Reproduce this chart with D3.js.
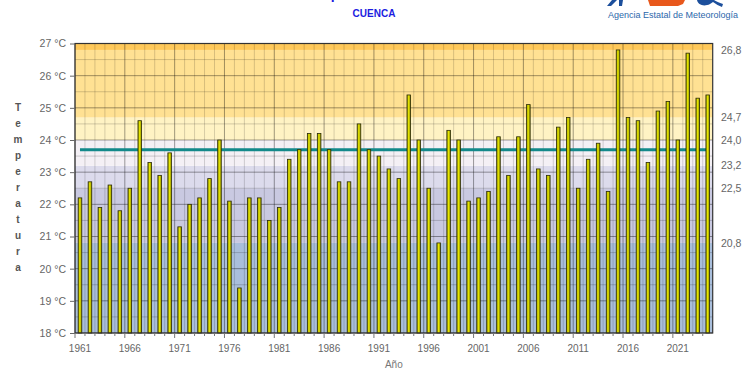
<!DOCTYPE html>
<html>
<head>
<meta charset="utf-8">
<script src="https://cdn.jsdelivr.net/npm/d3@7"></script>
<style>
  body { margin: 0; background: #fff; }
  svg { display: block; }
</style>
</head>
<body>
<div id="chart"></div>
<script>
// annual values, Cuenca
const years = d3.range(1961, 2025);
const temps = [
  22.2, 22.7, 21.9, 22.6, 21.8, 22.5, 24.6, 23.3, 22.9, 23.6,
  21.3, 22.0, 22.2, 22.8, 24.0, 22.1, 19.4, 22.2, 22.2, 21.5,
  21.9, 23.4, 23.7, 24.2, 24.2, 23.7, 22.7, 22.7, 24.5, 23.7,
  23.5, 23.1, 22.8, 25.4, 24.0, 22.5, 20.8, 24.3, 24.0, 22.1,
  22.2, 22.4, 24.1, 22.9, 24.1, 25.1, 23.1, 22.9, 24.4, 24.7,
  22.5, 23.4, 23.9, 22.4, 26.8, 24.7, 24.6, 23.3, 24.9, 25.2,
  24.0, 26.7, 25.3, 25.4
];
const meanTemp = 23.7;
const thresholds = [20.8, 22.5, 23.2, 24.0, 24.7, 26.8];
const bandColors = ["#a9bedb", "#c9c9e1", "#dcdbec", "#f4f0f5", "#fff3c4", "#ffe193", "#ffc95a"];
const yTicks = d3.range(18, 28);
const xTickYears = d3.range(1961, 2025, 5);

const width = 750, height = 375;
const mLeft = 75, mRight = 712.7, mTop = 43.5, mBottom = 333;

const svg = d3.select("#chart").append("svg")
  .attr("width", width)
  .attr("height", height)
  .style("font-family", "'Liberation Sans', Arial, sans-serif");

const x = d3.scaleBand().domain(years).range([mLeft, mRight]).padding(0);
const y = d3.scaleLinear().domain([18, 27]).range([mBottom, mTop]);

const defs = svg.append("defs");
const grad = defs.append("linearGradient").attr("id", "barGrad")
  .attr("x1", "0%").attr("x2", "100%").attr("y1", "0%").attr("y2", "0%");
grad.append("stop").attr("offset", "0%").attr("stop-color", "#8c8c00");
grad.append("stop").attr("offset", "45%").attr("stop-color", "#e8e800");
grad.append("stop").attr("offset", "100%").attr("stop-color", "#8c8c00");

// background bands
const edges = [18, ...thresholds, 27];
svg.append("g").selectAll("rect")
  .data(d3.pairs(edges))
  .join("rect")
  .attr("x", mLeft)
  .attr("width", mRight - mLeft)
  .attr("y", d => y(d[1]))
  .attr("height", d => y(d[0]) - y(d[1]))
  .attr("fill", (d, i) => bandColors[i]);

// grid
const grid = svg.append("g");
grid.selectAll("line.hmin")
  .data(d3.range(18.5, 27, 1))
  .join("line")
  .attr("class", "hmin")
  .attr("x1", mLeft).attr("x2", mRight)
  .attr("y1", d => y(d)).attr("y2", d => y(d))
  .attr("stroke", "rgba(0,0,0,0.18)");
grid.selectAll("line.hmaj")
  .data(yTicks)
  .join("line")
  .attr("class", "hmaj")
  .attr("x1", mLeft).attr("x2", mRight)
  .attr("y1", d => y(d)).attr("y2", d => y(d))
  .attr("stroke", "rgba(0,0,0,0.38)");
grid.selectAll("line.v")
  .data(years)
  .join("line")
  .attr("class", "v")
  .attr("x1", d => x(d)).attr("x2", d => x(d))
  .attr("y1", mTop).attr("y2", mBottom)
  .attr("stroke", d => (d - 1961) % 5 === 0 ? "rgba(0,0,0,0.38)" : "rgba(0,0,0,0.16)");

// mean line
svg.append("line")
  .attr("x1", x(years[0]) + x.bandwidth() / 2)
  .attr("x2", x(years[years.length - 1]) + x.bandwidth() / 2)
  .attr("y1", y(meanTemp)).attr("y2", y(meanTemp))
  .attr("stroke", "#13898a")
  .attr("stroke-width", 3);

// bars
const bw = 3.6;
svg.append("g").selectAll("rect")
  .data(years)
  .join("rect")
  .attr("x", d => x(d) + x.bandwidth() / 2 - bw / 2)
  .attr("width", bw)
  .attr("y", (d, i) => y(temps[i]))
  .attr("height", (d, i) => mBottom - y(temps[i]))
  .attr("fill", "url(#barGrad)")
  .attr("stroke", "#2b2b05")
  .attr("stroke-width", 0.8);

// frame
svg.append("rect")
  .attr("x", mLeft).attr("y", mTop)
  .attr("width", mRight - mLeft).attr("height", mBottom - mTop)
  .attr("fill", "none")
  .attr("stroke", "#333")
  .attr("stroke-width", 1.2);

// left axis
const yAxis = svg.append("g")
  .attr("transform", `translate(${mLeft},0)`)
  .call(d3.axisLeft(y).tickValues(yTicks).tickSize(5).tickPadding(4)
    .tickFormat(d => d + " °C"));
yAxis.select(".domain").remove();
yAxis.selectAll("text").attr("fill", "#666").style("font-size", "10.5px")
  .style("font-family", "'Liberation Sans', Arial, sans-serif");
yAxis.selectAll("line").attr("stroke", "#666");

// right labels (thresholds)
svg.append("g").selectAll("text")
  .data(thresholds)
  .join("text")
  .attr("x", 721)
  .attr("y", d => y(d))
  .attr("dy", "0.35em")
  .attr("fill", "#666")
  .style("font-size", "10.5px")
  .text(d => d3.format(".1f")(d).replace(".", ","));

// bottom axis
const xTicks = svg.append("g").attr("transform", `translate(0,${mBottom})`);
xTicks.selectAll("line")
  .data(years)
  .join("line")
  .attr("x1", d => x(d)).attr("x2", d => x(d))
  .attr("y1", 0).attr("y2", d => (d - 1961) % 5 === 0 ? 5 : 3)
  .attr("stroke", "#777");
xTicks.selectAll("text")
  .data(xTickYears)
  .join("text")
  .attr("x", d => x(d) + x.bandwidth() / 2)
  .attr("y", 19)
  .attr("text-anchor", "middle")
  .attr("fill", "#666")
  .style("font-size", "10px")
  .text(d => d);

// axis titles
svg.append("text")
  .attr("x", (mLeft + mRight) / 2)
  .attr("y", 368)
  .attr("text-anchor", "middle")
  .attr("fill", "#777")
  .style("font-size", "10px")
  .text("Año");

svg.append("g").selectAll("text")
  .data("Temperatura".split(""))
  .join("text")
  .attr("x", 18)
  .attr("y", (d, i) => 111 + i * 16)
  .attr("text-anchor", "middle")
  .attr("fill", "#555")
  .style("font-size", "10px")
  .style("font-weight", "bold")
  .text(d => d);

// header (title mostly cropped off the top)
svg.append("text")
  .attr("x", 303)
  .attr("y", -1)
  .attr("fill", "#1d1de0")
  .style("font-size", "14px")
  .style("font-weight", "bold")
  .text("Temperatura media");

svg.append("text")
  .attr("x", 374)
  .attr("y", 17)
  .attr("text-anchor", "middle")
  .attr("fill", "#1d1de0")
  .style("font-size", "10px")
  .style("font-weight", "bold")
  .text("CUENCA");

// logo remnants
const logo = svg.append("g");
logo.append("path")
  .attr("d", "M607,6 L612,0 L617,0 L611,6 Z M619,0 L623,0 L622,6 L619,6 Z")
  .attr("fill", "#1c4f9c");
logo.append("path")
  .attr("d", "M648,0 L685,0 L683,4 L678,6 L650,6 Z")
  .attr("fill", "#e8581c");
logo.append("path")
  .attr("d", "M697,0 C698,5 704,7 710,4 L713,2 C716,4 719,6 722,7 L723,4 C719,3 716,1 714,0 Z")
  .attr("fill", "#1c4f9c");
svg.append("text")
  .attr("x", 608)
  .attr("y", 18)
  .attr("fill", "#2c67ab")
  .style("font-size", "9px")
  .attr("textLength", 130)
  .attr("lengthAdjust", "spacingAndGlyphs")
  .text("Agencia Estatal de Meteorología");
</script>
</body>
</html>
